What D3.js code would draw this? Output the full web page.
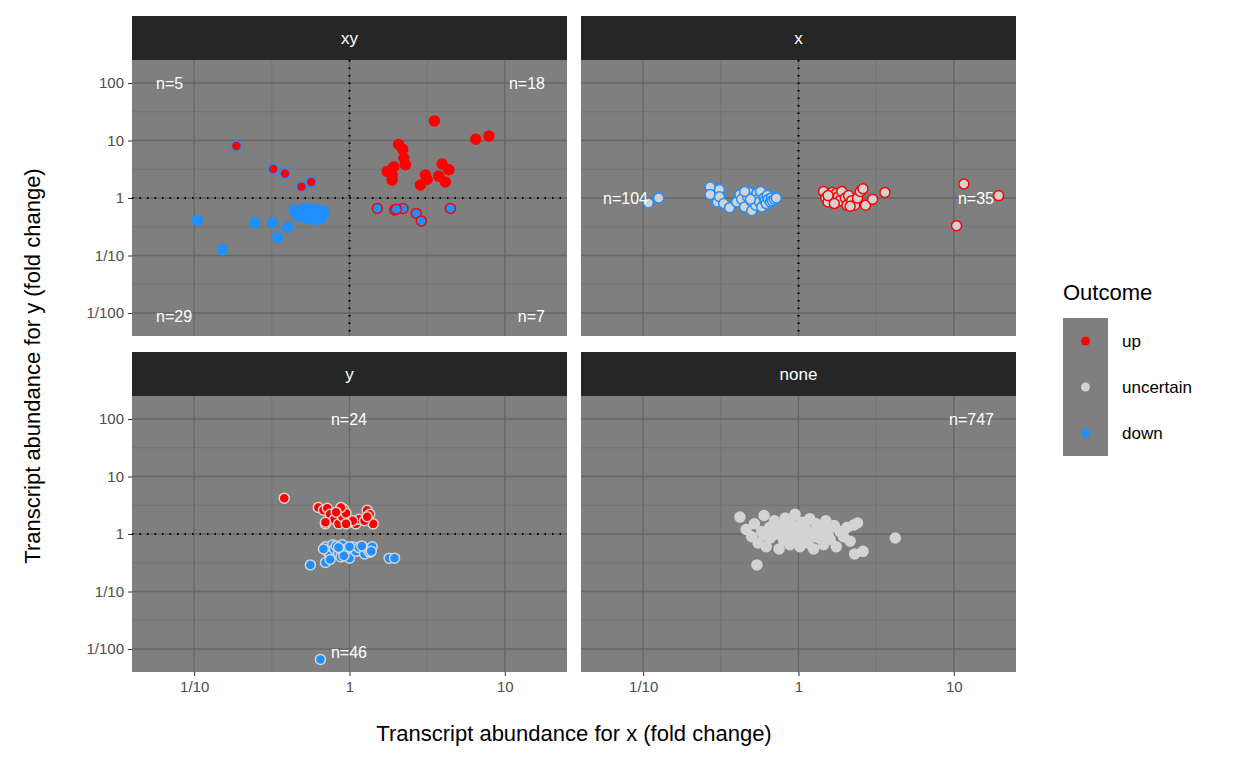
<!DOCTYPE html>
<html><head><meta charset="utf-8">
<script src="https://cdn.jsdelivr.net/npm/d3@7"></script>
<style>body{margin:0;background:#fff}svg{font-family:Arial,"Liberation Sans",sans-serif}</style>
</head><body><div id="chart"></div>
<script>
// fold-change values, [x, y]
var xyUpUp = [[3.52,21.9],[6.5,10.5],[7.9,12],[2.07,8.5],[2.2,7],[2.24,4.9],[2.29,3.8],[1.75,2.9],[1.93,3.5],[1.88,2.05],[3.95,3.9],[4.36,3.1],[3.75,2.4],[4.14,1.9],[2.86,1.68],[3.08,2.5],[3.16,2.1],[1.88,2.5]];
var xyDownUp = [[0.187,8.06],[0.323,3.2],[0.384,2.68],[0.49,1.57],[0.567,1.89]];
var xyUpDown = [[1.51,0.66],[1.95,0.62],[2.21,0.66],[2.69,0.54],[2.9,0.40],[4.47,0.66],[2.0,0.64]];
var xyDownDown = [[0.105,0.41],[0.152,0.126],[0.245,0.37],[0.32,0.37],[0.40,0.31],[0.345,0.205],
  [0.44,0.62],[0.47,0.55],[0.49,0.48],[0.5,0.6],[0.52,0.52],[0.53,0.45],[0.55,0.63],[0.56,0.5],[0.58,0.58],[0.6,0.47],[0.61,0.42],[0.62,0.55],[0.64,0.6],[0.65,0.5],[0.66,0.45],[0.68,0.55],[0.46,0.5],[0.51,0.66],[0.54,0.58],[0.57,0.43],[0.59,0.64],[0.63,0.5],[0.67,0.6]];
var xDown = [[0.108,0.82],[0.126,1.0],[0.27,1.55],[0.27,1.15],[0.3,0.85],[0.31,1.4],[0.31,1.05],[0.33,0.8],[0.36,0.68],[0.4,0.85],[0.42,1.15],[0.43,0.95],[0.45,0.7],[0.47,1.05],[0.48,1.25],[0.5,0.85],[0.5,0.6],[0.52,1.05],[0.53,0.75],[0.54,1.2],[0.55,0.95],[0.56,0.85],[0.57,1.3],[0.58,0.7],[0.6,1.0],[0.61,0.9],[0.62,0.8],[0.63,1.1],[0.64,0.95],[0.66,0.85],[0.67,1.0],[0.68,0.9],[0.7,0.95],[0.72,1.0],[0.49,0.95],[0.45,1.3]];
var xUp = [[1.45,1.3],[1.5,1.0],[1.55,0.85],[1.6,1.15],[1.65,1.25],[1.7,0.95],[1.75,1.2],[1.8,1.05],[1.85,0.9],[1.9,1.3],[2.0,1.0],[2.05,0.75],[2.1,1.1],[2.2,0.9],[2.3,0.75],[2.4,1.0],[2.5,1.3],[2.6,1.45],[2.7,0.75],[3.0,0.95],[3.6,1.25],[1.55,1.1],[1.7,0.8],[2.15,0.72],[10.4,0.33],[11.6,1.75],[19.4,1.1]];
var yUp = [[0.38,4.2],[0.63,2.9],[0.68,2.6],[0.7,1.5],[0.72,2.8],[0.75,2.2],[0.8,1.8],[0.85,1.5],[0.9,2.0],[0.92,2.7],[0.95,2.3],[1.0,1.6],[1.1,1.5],[1.15,1.8],[1.3,2.6],[1.35,2.2],[1.42,1.5],[0.88,2.9],[1.05,1.7],[0.7,1.6],[1.25,1.7],[0.95,1.5],[1.3,2.0],[0.82,2.4]];
var yDown = [[0.65,0.0066],[0.56,0.29],[0.7,0.32],[0.7,0.6],[0.72,0.5],[0.75,0.42],[0.78,0.65],[0.8,0.55],[0.85,0.45],[0.88,0.4],[0.9,0.65],[0.95,0.55],[1.0,0.38],[1.05,0.6],[1.1,0.5],[1.15,0.58],[1.25,0.45],[1.3,0.55],[1.35,0.48],[1.4,0.6],[1.8,0.38],[1.95,0.38],[0.68,0.55],[0.82,0.62],[0.92,0.42],[1.0,0.6],[1.2,0.62],[0.75,0.36],[0.85,0.58],[1.38,0.5]];
var noneAll = [[0.42,1.97],[0.54,0.29],[2.26,1.43],[2.4,1.55],[2.6,0.5],[4.2,0.85],[2.3,0.45],
  [0.46,1.2],[0.5,0.9],[0.52,1.5],[0.55,0.7],[0.58,1.1],[0.6,2.1],[0.62,0.6],[0.65,1.3],[0.66,0.85],[0.7,1.7],[0.72,1.0],[0.75,0.55],[0.76,1.4],[0.8,0.8],[0.82,1.9],[0.85,1.1],[0.88,0.65],[0.9,1.5],[0.92,0.95],[0.95,2.2],[0.97,0.75],[1.0,1.2],[1.02,0.6],[1.05,1.6],[1.08,0.9],[1.1,1.35],[1.15,0.7],[1.18,1.85],[1.2,1.05],[1.25,0.55],[1.3,1.5],[1.35,0.85],[1.4,1.2],[1.45,0.65],[1.5,1.7],[1.55,1.0],[1.6,0.8],[1.7,1.4],[1.75,0.6],[1.85,1.1],[1.95,0.9],[2.05,1.3],[2.15,0.75],
  [0.68,1.25],[0.78,1.0],[0.87,1.3],[0.98,1.0],[1.12,1.1],[1.22,0.9],[1.32,1.05],[1.42,0.95],[1.58,1.25],[0.6,0.95]];

var yTicks = [100, 10, 1, 0.1, 0.01];
var xTicks = [0.1, 1, 10];
var tickLabel = function(v) { return v >= 1 ? String(v) : "1/" + Math.round(1 / v); };
var outcomes = ["up", "uncertain", "down"];
var colour = {up: "#FF0000", uncertain: "#D3D3D3", down: "#1E90FF"};

var panels = [
  {name: "xy", col: 0, row: 0, vline: true, hline: true,
   groups: [[xyDownDown,"down","down"],[xyUpDown,"down","up"],[xyDownUp,"up","down"],[xyUpUp,"up","up"]],
   labels: [["n=5",24,83,"start"],["n=18",413,83,"end"],["n=29",24,316,"start"],["n=7",413,316,"end"]]},
  {name: "x", col: 1, row: 0, vline: true, hline: false,
   groups: [[xDown,"uncertain","down"],[xUp,"uncertain","up"]],
   labels: [["n=104",22,198,"start"],["n=35",413,198,"end"]]},
  {name: "y", col: 0, row: 1, vline: false, hline: true,
   groups: [[yDown,"down","uncertain"],[yUp,"up","uncertain"]],
   labels: [["n=24",217,83,"middle"],["n=46",217,316,"middle"]]},
  {name: "none", col: 1, row: 1, vline: false, hline: false,
   groups: [[noneAll,"uncertain","uncertain"]],
   labels: [["n=747",413,83,"end"]]}
];

var pw = 435, ph = 276, strip = 44;
var x = d3.scaleLog().domain([Math.pow(10,-1.4), Math.pow(10,1.4)]).range([0, pw]);
var y = d3.scaleLog().domain([Math.pow(10,-2.4), Math.pow(10,2.4)]).range([ph, 0]);
var minorX = [Math.pow(10,-0.5), Math.pow(10,0.5)];
var minorY = [Math.pow(10,1.5), Math.pow(10,0.5), Math.pow(10,-0.5), Math.pow(10,-1.5)];

var svg = d3.select("#chart").append("svg").attr("width", 1248).attr("height", 768);

panels.forEach(function(p) {
  var g = svg.append("g").attr("transform", "translate(" + (132 + p.col * 449) + "," + (16 + p.row * 336) + ")");
  g.append("rect").attr("width", pw).attr("height", strip).attr("fill", "#262626");
  g.append("text").attr("x", pw / 2).attr("y", strip / 2 + 6).attr("text-anchor", "middle")
    .attr("fill", "#fff").style("font-size", "17px").text(p.name);
  var pg = g.append("g").attr("transform", "translate(0," + strip + ")");
  pg.append("rect").attr("width", pw).attr("height", ph).attr("fill", "#7F7F7F");
  pg.selectAll(".mx").data(minorX).enter().append("line").attr("x1", x).attr("x2", x).attr("y1", 0).attr("y2", ph).attr("stroke", "#717171").attr("stroke-width", 0.8);
  pg.selectAll(".my").data(minorY).enter().append("line").attr("y1", y).attr("y2", y).attr("x1", 0).attr("x2", pw).attr("stroke", "#717171").attr("stroke-width", 0.8);
  pg.selectAll(".gx").data(xTicks).enter().append("line").attr("x1", x).attr("x2", x).attr("y1", 0).attr("y2", ph).attr("stroke", "#666").attr("stroke-width", 1.3);
  pg.selectAll(".gy").data(yTicks).enter().append("line").attr("y1", y).attr("y2", y).attr("x1", 0).attr("x2", pw).attr("stroke", "#666").attr("stroke-width", 1.3);
  if (p.vline) pg.append("line").attr("x1", x(1)).attr("x2", x(1)).attr("y1", 0).attr("y2", ph).attr("stroke", "#000").attr("stroke-width", 2.2).attr("stroke-dasharray", "1.5,6");
  if (p.hline) pg.append("line").attr("y1", y(1)).attr("y2", y(1)).attr("x1", 0).attr("x2", pw).attr("stroke", "#000").attr("stroke-width", 2.2).attr("stroke-dasharray", "1.5,6");
  p.groups.forEach(function(gr) {
    pg.selectAll(null).data(gr[0]).enter().append("circle")
      .attr("cx", function(d) { return x(d[0]); })
      .attr("cy", function(d) { return y(d[1]); })
      .attr("r", 5).attr("fill", colour[gr[1]]).attr("stroke", colour[gr[2]]).attr("stroke-width", 1.5);
  });
  p.labels.forEach(function(l) {
    pg.append("text").attr("x", l[1]).attr("y", l[2] - 60 + 6).attr("text-anchor", l[3])
      .attr("fill", "#fff").style("font-size", "16px").text(l[0]);
  });
  if (p.col === 0) {
    var ya = pg.append("g").call(d3.axisLeft(y).tickValues(yTicks).tickFormat(tickLabel).tickSize(4).tickPadding(4));
    ya.select(".domain").remove();
    ya.selectAll("line").attr("stroke", "#333");
    ya.selectAll("text").attr("fill", "#4d4d4d").style("font-size", "15px");
  }
  if (p.row === 1) {
    var xa = pg.append("g").attr("transform", "translate(0," + ph + ")").call(d3.axisBottom(x).tickValues(xTicks).tickFormat(tickLabel).tickSize(4).tickPadding(5));
    xa.select(".domain").remove();
    xa.selectAll("line").attr("stroke", "#333");
    xa.selectAll("text").attr("fill", "#4d4d4d").style("font-size", "15px");
  }
});

svg.append("text").attr("x", 574).attr("y", 741).attr("text-anchor", "middle").style("font-size", "22px").attr("fill", "#000")
  .text("Transcript abundance for x (fold change)");
svg.append("text").attr("transform", "translate(40,366) rotate(-90)").attr("text-anchor", "middle").style("font-size", "22px").attr("fill", "#000")
  .text("Transcript abundance for y (fold change)");

// legend
var lg = svg.append("g").attr("transform", "translate(1063,300)");
lg.append("text").attr("x", 0).attr("y", 0).style("font-size", "22px").text("Outcome");
outcomes.forEach(function(o, i) {
  var k = lg.append("g").attr("transform", "translate(0," + (18 + i * 46) + ")");
  k.append("rect").attr("width", 45).attr("height", 46).attr("fill", "#7F7F7F");
  k.append("circle").attr("cx", 22.5).attr("cy", 23).attr("r", 4.5).attr("fill", colour[o]);
  k.append("text").attr("x", 59).attr("y", 29).style("font-size", "17px").text(o);
});
</script></body></html>
